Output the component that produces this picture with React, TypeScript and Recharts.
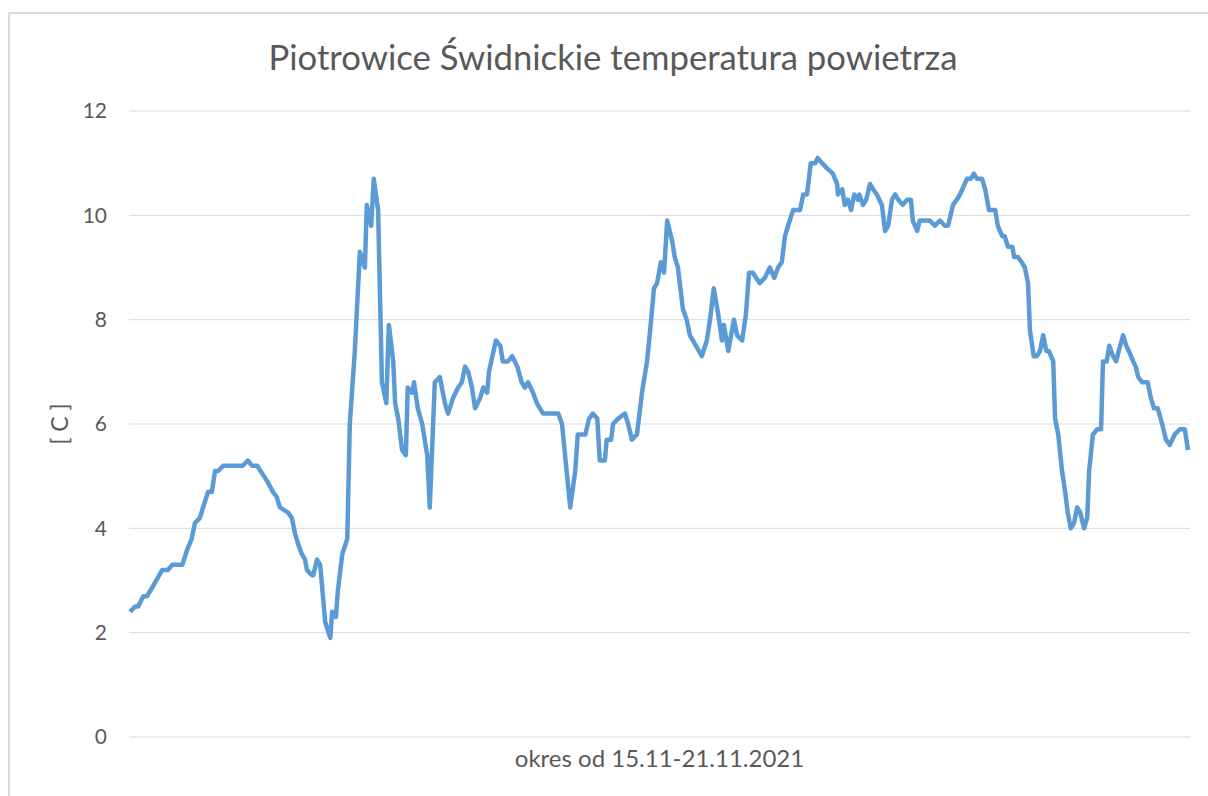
import React from "react";
import { LineChart, Line, XAxis, YAxis, CartesianGrid } from "recharts";

// hours since 15.11 00:00
const hours = [
  0.0, 0.8, 1.3, 2.1, 2.7, 3.7, 5.1, 6.0, 6.7, 8.3, 9.1, 9.8, 10.3, 11.1, 11.6, 12.4, 13.0, 13.5, 14.0, 14.8,
  17.9, 18.7, 19.4, 20.2, 21.8, 22.7, 23.3, 23.8, 25.1, 25.7, 26.2, 26.7, 27.3, 27.8, 28.1, 28.9, 29.1, 29.7, 30.2, 31.0,
  31.8, 32.1, 32.7, 33.0, 33.7, 34.5,
  34.9, 35.7, 36.5, 37.3, 37.6, 38.3, 38.7, 39.4, 40.0, 40.7, 41.1, 41.8, 42.1, 42.6, 43.2, 43.8, 44.1, 44.8, 45.1, 45.7,
  46.4, 47.2, 47.6, 48.4, 49.2, 50.0, 50.5, 51.3, 52.1, 52.7, 53.2, 53.7, 54.3, 54.8, 55.6, 56.1, 56.7, 57.0, 58.1, 58.8,
  59.2, 60.0, 60.7, 61.5, 62.2, 62.7, 63.2, 64.0, 64.6, 65.1, 65.6,
  68.0, 68.6, 69.9, 70.7, 71.1, 72.3, 72.9, 73.5, 74.2, 74.6, 75.4, 75.7, 76.4, 76.7, 77.5, 78.6, 79.1, 79.7, 80.5, 81.3,
  82.1, 82.6, 83.2, 83.7, 84.3, 84.8, 85.3, 86.1, 86.5, 87.0, 87.8, 88.4, 88.9, 89.4, 90.8, 91.6, 92.1, 92.7, 93.4, 94.0,
  94.3, 95.0, 95.9, 96.4, 97.2, 97.8, 98.3, 98.9, 100.0, 100.8, 101.6, 102.3, 102.9, 103.5, 104.0, 104.5, 105.3,
  106.4, 106.9, 107.5, 108.1, 108.8, 109.2, 109.9, 110.7, 111.6, 112.3, 112.4, 113.1, 113.5, 114.0, 114.5, 115.0, 115.6,
  115.8, 116.4, 116.9, 117.5, 118.0, 118.6, 119.4, 119.9, 120.4, 121.0, 121.5, 122.0, 122.7, 123.4, 124.0, 124.3, 125.0,
  125.4, 127.0, 127.8, 128.6, 129.4, 129.9, 130.7, 131.3, 131.8, 132.9, 133.5, 134.0, 134.5, 135.3, 135.8, 136.4, 137.4,
  137.8, 138.5, 138.9, 139.4, 140.1, 140.4, 141.0, 141.6, 142.1, 142.6,
  142.9, 143.5, 144.0, 144.5, 145.0, 145.5, 145.9, 146.6, 146.9, 147.4, 148.0, 148.5, 148.9, 149.4, 149.9, 150.4, 150.9,
  151.5, 152.0, 152.3, 152.9, 153.6, 154.2, 154.5, 155.1, 155.5, 156.1, 156.6, 157.0, 157.7, 158.2, 158.6, 159.3, 159.7,
  160.1, 160.7, 161.6, 162.1, 162.6, 163.2, 163.9, 164.5, 165.1, 165.9, 166.7, 167.5, 168.0,
];

const temps = [
  2.4, 2.5, 2.5, 2.7, 2.7, 2.9, 3.2, 3.2, 3.3, 3.3, 3.6, 3.8, 4.1, 4.2, 4.4, 4.7, 4.7, 5.1, 5.1, 5.2,
  5.2, 5.3, 5.2, 5.2, 4.9, 4.7, 4.6, 4.4, 4.3, 4.2, 3.9, 3.7, 3.5, 3.4, 3.2, 3.1, 3.1, 3.4, 3.3, 2.2,
  1.9, 2.4, 2.3, 2.8, 3.5, 3.8,
  6.0, 7.4, 9.3, 9.0, 10.2, 9.8, 10.7, 10.1, 6.8, 6.4, 7.9, 7.2, 6.4, 6.1, 5.5, 5.4, 6.7, 6.6, 6.8, 6.3,
  6.0, 5.4, 4.4, 6.8, 6.9, 6.4, 6.2, 6.5, 6.7, 6.8, 7.1, 7.0, 6.7, 6.3, 6.5, 6.7, 6.6, 7.0, 7.6, 7.5,
  7.2, 7.2, 7.3, 7.1, 6.8, 6.7, 6.8, 6.6, 6.4, 6.3, 6.2,
  6.2, 6.0, 4.4, 5.1, 5.8, 5.8, 6.1, 6.2, 6.1, 5.3, 5.3, 5.7, 5.7, 6.0, 6.1, 6.2, 6.0, 5.7, 5.8, 6.6,
  7.2, 7.8, 8.6, 8.7, 9.1, 8.9, 9.9, 9.5, 9.2, 9.0, 8.2, 8.0, 7.7, 7.6, 7.3, 7.6, 8.0, 8.6, 8.1, 7.6,
  7.9, 7.4, 8.0, 7.7, 7.6, 8.1, 8.9, 8.9, 8.7, 8.8, 9.0, 8.8, 9.0, 9.1, 9.6, 9.8, 10.1,
  10.1, 10.4, 10.4, 11.0, 11.0, 11.1, 11.0, 10.9, 10.8, 10.6, 10.4, 10.5, 10.2, 10.3, 10.1, 10.4, 10.3,
  10.4, 10.2, 10.3, 10.6, 10.5, 10.4, 10.2, 9.7, 9.8, 10.3, 10.4, 10.3, 10.2, 10.3, 10.3, 9.9, 9.7,
  9.9, 9.9, 9.8, 9.9, 9.8, 9.8, 10.2, 10.3, 10.4, 10.7, 10.7, 10.8, 10.7, 10.7, 10.5, 10.1, 10.1,
  9.8, 9.6, 9.6, 9.4, 9.4, 9.2, 9.2, 9.1, 9.0, 8.7,
  7.8, 7.3, 7.3, 7.4, 7.7, 7.4, 7.4, 7.2, 6.1, 5.8, 5.1, 4.7, 4.3, 4.0, 4.1, 4.4, 4.3,
  4.0, 4.2, 5.1, 5.8, 5.9, 5.9, 7.2, 7.2, 7.5, 7.3, 7.2, 7.4, 7.7, 7.5, 7.4, 7.2, 7.1, 6.9,
  6.8, 6.8, 6.5, 6.3, 6.3, 6.0, 5.7, 5.6, 5.8, 5.9, 5.9, 5.5,
];

const yTicks = [0, 2, 4, 6, 8, 10, 12];
const chartTitle = "Piotrowice Świdnickie temperatura powietrza";
const xTitle = "okres od 15.11-21.11.2021";
const yTitle = "[ C ]";

const data = hours.map((h, i) => ({ hour: h, temp: temps[i] }));

const textColor = "#595959";

export default function App() {
  return (
    <div
      style={{
        position: "absolute",
        left: 8,
        top: 12,
        width: 1200,
        height: 784,
        boxSizing: "border-box",
        borderLeft: "2px solid #d9d9d9",
        borderTop: "2px solid #d9d9d9",
        background: "#fff",
        fontFamily: "Lato, sans-serif",
      }}
    >
      <div
        style={{
          position: "absolute",
          left: 8,
          top: 25,
          width: 1190,
          textAlign: "center",
          fontSize: 34.7,
          lineHeight: "35px",
          color: textColor,
          whiteSpace: "nowrap",
        }}
      >
        {chartTitle}
      </div>
      <LineChart
        width={1198}
        height={782}
        data={data}
        margin={{ top: 97, right: 18, bottom: 16, left: -19 }}
      >
        <CartesianGrid vertical={false} stroke="#d9d9d9" />
        <XAxis
          type="number"
          dataKey="hour"
          domain={[-0.16, 168.32]}
          tick={false}
          axisLine={false}
          tickLine={false}
          height={43}
          label={{ value: xTitle, position: "center", fill: textColor, fontSize: 24 }}
        />
        <YAxis
          domain={[0, 12]}
          ticks={yTicks}
          width={138}
          axisLine={false}
          tickLine={false}
          tickSize={0}
          tickMargin={22}
          tick={{ fill: textColor, fontSize: 21 }}
          label={{ value: yTitle, angle: -90, position: "center", fill: textColor, fontSize: 23 }}
        />
        <Line
          type="linear"
          dataKey="temp"
          stroke="#5b9bd5"
          strokeWidth={4.5}
          strokeLinejoin="round"
          dot={false}
          isAnimationActive={false}
        />
      </LineChart>
    </div>
  );
}
